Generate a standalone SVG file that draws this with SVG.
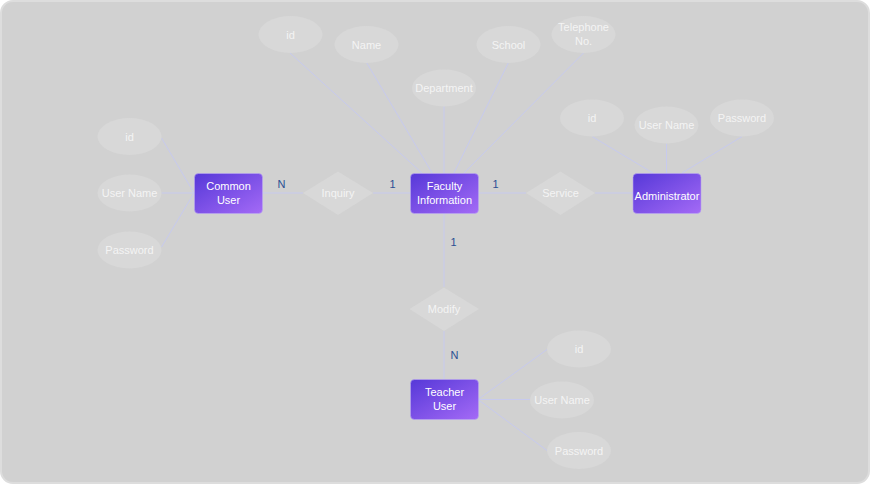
<svg xmlns="http://www.w3.org/2000/svg" width="870" height="484" viewBox="0 0 870 484">
<defs>
<linearGradient id="ent" x1="0" y1="0" x2="1" y2="1">
<stop offset="0" stop-color="#5638d8"/>
<stop offset="1" stop-color="#a46af6"/>
</linearGradient>
<style>
.bg{fill:#d1d1d1;stroke:#dddddd;stroke-width:2}
.ent rect{fill:url(#ent);stroke:#b9a6f2;stroke-width:0.6}
.attr ellipse{fill:#d8d8d8}
.rel polygon{fill:#d8d8d8}
text{font-family:"Liberation Sans",Arial,sans-serif;font-size:11px;fill:#ffffff;text-anchor:middle}
.attr text,.rel text{fill:#f4f4f4}
.card{fill:#2b4f93;font-size:11px}
#connectors line{stroke:#c7caee;stroke-width:1}
</style>
</defs>
<rect class="bg" x="1" y="1" width="868" height="482" rx="12"/>
<g id="connectors">
<line x1="161.5" y1="138" x2="194" y2="193"/>
<line x1="161.5" y1="193" x2="194" y2="193"/>
<line x1="161.5" y1="247" x2="194" y2="193"/>
<line x1="262" y1="193" x2="303" y2="193"/>
<line x1="373" y1="193" x2="410" y2="193"/>
<line x1="478" y1="193" x2="526" y2="193"/>
<line x1="595" y1="193" x2="633" y2="193"/>
<line x1="444" y1="214" x2="444" y2="287"/>
<line x1="444" y1="331" x2="444" y2="379"/>
<line x1="290" y1="53" x2="444" y2="193"/>
<line x1="366.5" y1="62.5" x2="444" y2="193"/>
<line x1="444" y1="106" x2="444" y2="193"/>
<line x1="508.5" y1="62.5" x2="444" y2="193"/>
<line x1="583.5" y1="53" x2="444" y2="193"/>
<line x1="592" y1="136.5" x2="653" y2="173"/>
<line x1="666.5" y1="143.5" x2="666.5" y2="173"/>
<line x1="742" y1="136.5" x2="682" y2="173"/>
<line x1="478" y1="399.5" x2="547" y2="349.5"/>
<line x1="478" y1="399.5" x2="530" y2="399.5"/>
<line x1="478" y1="399.5" x2="547" y2="450.5"/>
</g>
<g id="rel-inquiry" class="rel"><polygon points="303,193 338,171.5 373,193 338,215"/><text x="338" y="197">Inquiry</text></g>
<g id="rel-service" class="rel"><polygon points="526,193 560.5,171.5 595,193 560.5,215"/><text x="560.5" y="197">Service</text></g>
<g id="rel-modify" class="rel"><polygon points="409.5,309 444,287.5 479,309 444,331"/><text x="444" y="313">Modify</text></g>
<g id="ent-common" class="ent"><rect x="194.5" y="173.5" width="68" height="40" rx="4"/><text x="228.5" y="190">Common</text><text x="228.5" y="204">User</text></g>
<g id="ent-faculty" class="ent"><rect x="410.5" y="173.5" width="68" height="40" rx="4"/><text x="444.5" y="190">Faculty</text><text x="444.5" y="204">Information</text></g>
<g id="ent-admin" class="ent"><rect x="633" y="173.5" width="68" height="40" rx="4"/><text x="667" y="200">Administrator</text></g>
<g id="ent-teacher" class="ent"><rect x="410.5" y="379.5" width="68" height="40" rx="4"/><text x="444.5" y="396">Teacher</text><text x="444.5" y="410">User</text></g>
<g id="attr-cu-id" class="attr"><ellipse cx="129.5" cy="136.5" rx="32" ry="18.5"/><text x="129.5" y="140.5">id</text></g>
<g id="attr-cu-name" class="attr"><ellipse cx="129.5" cy="193" rx="32" ry="18.5"/><text x="129.5" y="197">User Name</text></g>
<g id="attr-cu-pw" class="attr"><ellipse cx="129.5" cy="250" rx="32" ry="18.5"/><text x="129.5" y="254">Password</text></g>
<g id="attr-f-id" class="attr"><ellipse cx="290.5" cy="34.5" rx="32" ry="18.5"/><text x="290.5" y="38.5">id</text></g>
<g id="attr-f-name" class="attr"><ellipse cx="366.5" cy="44.5" rx="32" ry="18.5"/><text x="366.5" y="48.5">Name</text></g>
<g id="attr-f-dept" class="attr"><ellipse cx="444" cy="88" rx="32" ry="18.5"/><text x="444" y="92">Department</text></g>
<g id="attr-f-school" class="attr"><ellipse cx="508.5" cy="44.5" rx="32" ry="18.5"/><text x="508.5" y="48.5">School</text></g>
<g id="attr-f-tel" class="attr"><ellipse cx="583.5" cy="34.5" rx="32" ry="18.5"/><text x="583.5" y="31">Telephone</text><text x="583.5" y="45">No.</text></g>
<g id="attr-a-id" class="attr"><ellipse cx="592" cy="118" rx="32" ry="18.5"/><text x="592" y="122">id</text></g>
<g id="attr-a-name" class="attr"><ellipse cx="666.5" cy="125" rx="32" ry="18.5"/><text x="666.5" y="129">User Name</text></g>
<g id="attr-a-pw" class="attr"><ellipse cx="742" cy="118" rx="32" ry="18.5"/><text x="742" y="122">Password</text></g>
<g id="attr-t-id" class="attr"><ellipse cx="579" cy="349" rx="32" ry="18.5"/><text x="579" y="353">id</text></g>
<g id="attr-t-name" class="attr"><ellipse cx="562" cy="400" rx="32" ry="18.5"/><text x="562" y="404">User Name</text></g>
<g id="attr-t-pw" class="attr"><ellipse cx="579" cy="450.5" rx="32" ry="18.5"/><text x="579" y="454.5">Password</text></g>
<g id="cardinalities">
<text class="card" x="281.5" y="187.5">N</text>
<text class="card" x="392.5" y="187.5">1</text>
<text class="card" x="495.5" y="187.5">1</text>
<text class="card" x="453.5" y="245.5">1</text>
<text class="card" x="454.5" y="359">N</text>
</g>
</svg>
